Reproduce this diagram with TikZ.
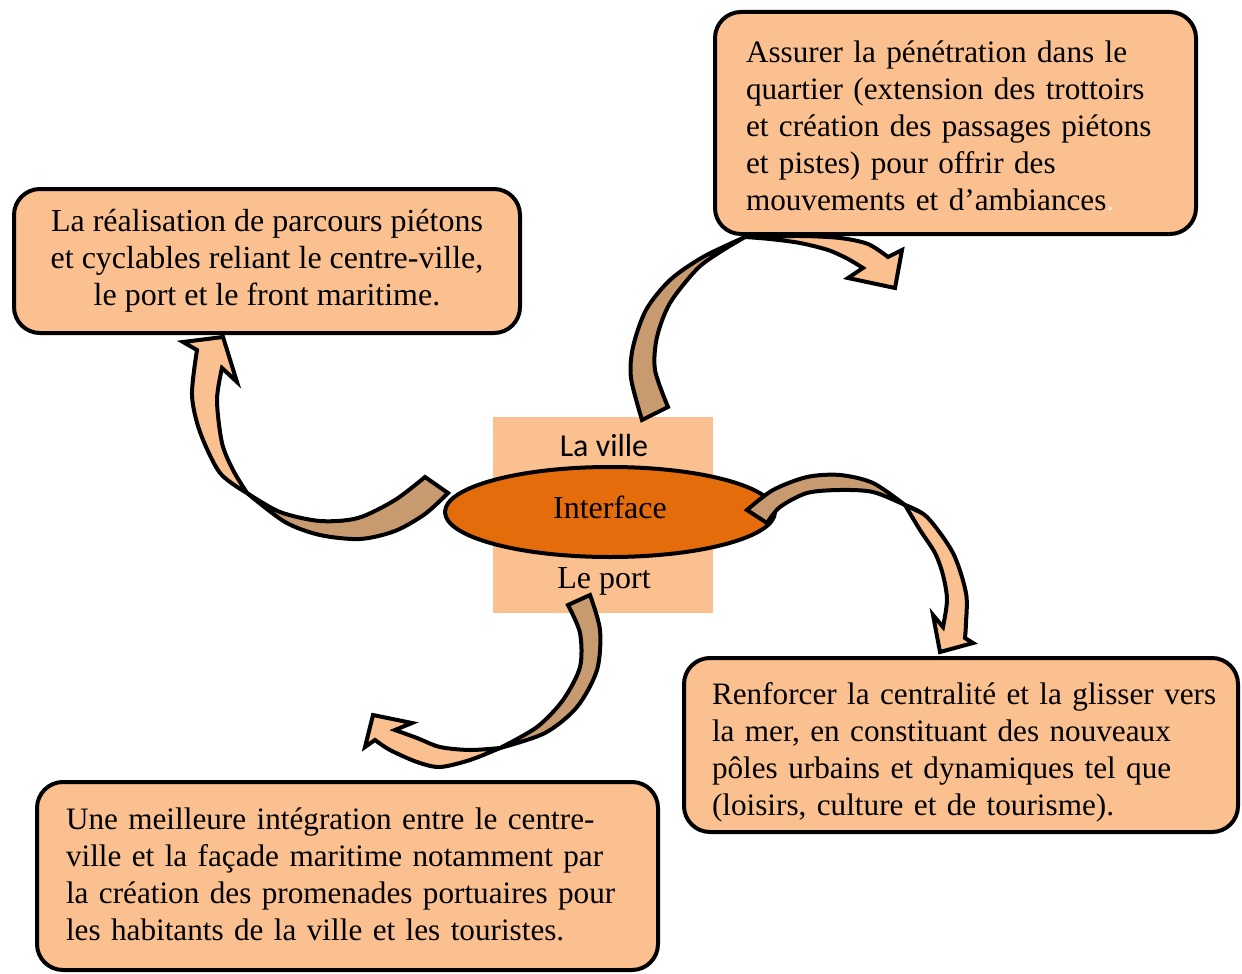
\documentclass[tikz,border=0pt]{standalone}
\usepackage{fontspec}
\setmainfont{Liberation Serif}
\newfontfamily\villefont{Carlito}
\usetikzlibrary{shapes.geometric,positioning}
\definecolor{peach}{HTML}{FAC090}
\definecolor{rust}{HTML}{E46C0A}
\definecolor{tanback}{HTML}{C89A70}

\begin{document}
\begin{tikzpicture}[x=0.5pt,y=-0.5pt,line width=2pt,font=\fontsize{16}{18.5}\selectfont]
    \tikzstyle{box}=[draw=black,fill=peach,rounded corners=13pt,inner ysep=0pt]
    \tikzstyle{leftbox}=[box,font=\fontsize{15.6}{18.5}\selectfont]
    \tikzstyle{back}=[draw=black,fill=tanback,line join=miter]
    \tikzstyle{front}=[draw=black,fill=peach,line join=miter]
    \useasboundingbox (0,0) rectangle (1242,974);
    \node[box,minimum width=253pt,minimum height=72pt,align=center] (parcours) at (267,261)
        {La réalisation de parcours piétons\\et cyclables reliant le centre-ville,\\le port et le front maritime.};
    \node[leftbox,minimum height=111pt,inner xsep=15.5pt,text width=209.5pt,text height=19pt] (penetration) at (955.5,123)
        {\begin{tabular}[t]{@{}l@{}}Assurer la pénétration dans le\\quartier (extension des trottoirs\\et création des passages piétons\\et pistes) pour offrir des\\mouvements et d’ambiances{\color{white!70!peach}.}\end{tabular}};
    \node[leftbox,minimum height=87pt,inner xsep=14pt,text width=249pt,text height=21pt] (centralite) at (961,745)
        {\begin{tabular}[t]{@{}l@{}}Renforcer la centralité et la glisser vers\\la mer, en constituant des nouveaux\\pôles urbains et dynamiques tel que\\(loisirs, culture et de tourisme).\end{tabular}};
    \node[leftbox,minimum height=94pt,inner xsep=14.5pt,text width=281.5pt,text height=14.5pt] (integration) at (347.5,876)
        {\begin{tabular}[t]{@{}l@{}}Une meilleure intégration entre le centre-\\ville et la façade maritime notamment par\\la création des promenades portuaires pour\\les habitants de la ville et les touristes.\end{tabular}};
    \fill[peach] (493,417) rectangle (713,613);
    \node[ellipse,draw=black,fill=rust,minimum width=165pt,minimum height=45pt,inner sep=0pt,text depth=4.5pt] (iface) at (610,512) {Interface};
    \node[above=0pt of iface,xshift=-3pt,font=\villefont\fontsize{16}{18.5}\selectfont] (ville) {La ville};
    \node[below=0pt of iface,xshift=-3pt] (port) {Le port};
    \filldraw[front] plot[smooth] coordinates {(247,493) (220,473) (200,432) (192,395) (197,350)} -- (183,342) -- (223,337) -- (237,382)
        -- plot[smooth] coordinates {(222,368) (217,400) (222,443) (233,470) (247,493)} -- cycle;
    \filldraw[back] plot[smooth] coordinates {(247,493) (285,522) (320,535) (360,539) (395,531) (425,514) (448,493)}
        -- plot[smooth] coordinates {(425,477) (395,500) (358,518) (320,521) (280,512) (247,493)} -- cycle;
    \filldraw[front] plot[smooth] coordinates {(745,237) (800,236) (840,238) (868,244) (888,257)} -- (902,250) -- (895,288) -- (848,278)
        -- plot[smooth] coordinates {(863,268) (848,259) (828,250) (800,243) (770,239) (745,237)} -- cycle;
    \filldraw[back] plot[smooth] coordinates {(745,237) (703,257) (670,280) (646,310) (633,347) (631,378) (642,420)}
        -- plot[smooth] coordinates {(668,407) (655,370) (657,337) (670,303) (697,269) (720,252) (745,237)} -- cycle;
    \filldraw[front] plot[smooth] coordinates {(905,505) (927,517) (953,553) (966,593) (966,623) (965,638)} -- (973,643) -- (940,652) -- (933,615)
        -- plot[smooth] coordinates {(943,627) (947,600) (943,575) (935,553) (920,530) (905,505)} -- cycle;
    \filldraw[back] plot[smooth] coordinates {(905,505) (873,483) (840,475) (807,477) (773,490) (747,510)}
        -- plot[smooth] coordinates {(767,523) (780,507) (807,493) (840,490) (873,492) (905,505)} -- cycle;
    \filldraw[front] plot[smooth] coordinates {(500,748) (470,760) (440,767) (417,762) (390,750) (375,740)} -- (365,747) -- (373,715) -- (412,723)
        -- plot[smooth] coordinates {(395,730) (417,738) (440,747) (470,750) (500,748)} -- cycle;
    \filldraw[back] plot[smooth] coordinates {(500,748) (545,733) (577,707) (597,670) (600,630) (590,595)}
        -- plot[smooth] coordinates {(568,605) (580,633) (580,667) (563,700) (537,727) (500,748)} -- cycle;
\end{tikzpicture}
\end{document}
